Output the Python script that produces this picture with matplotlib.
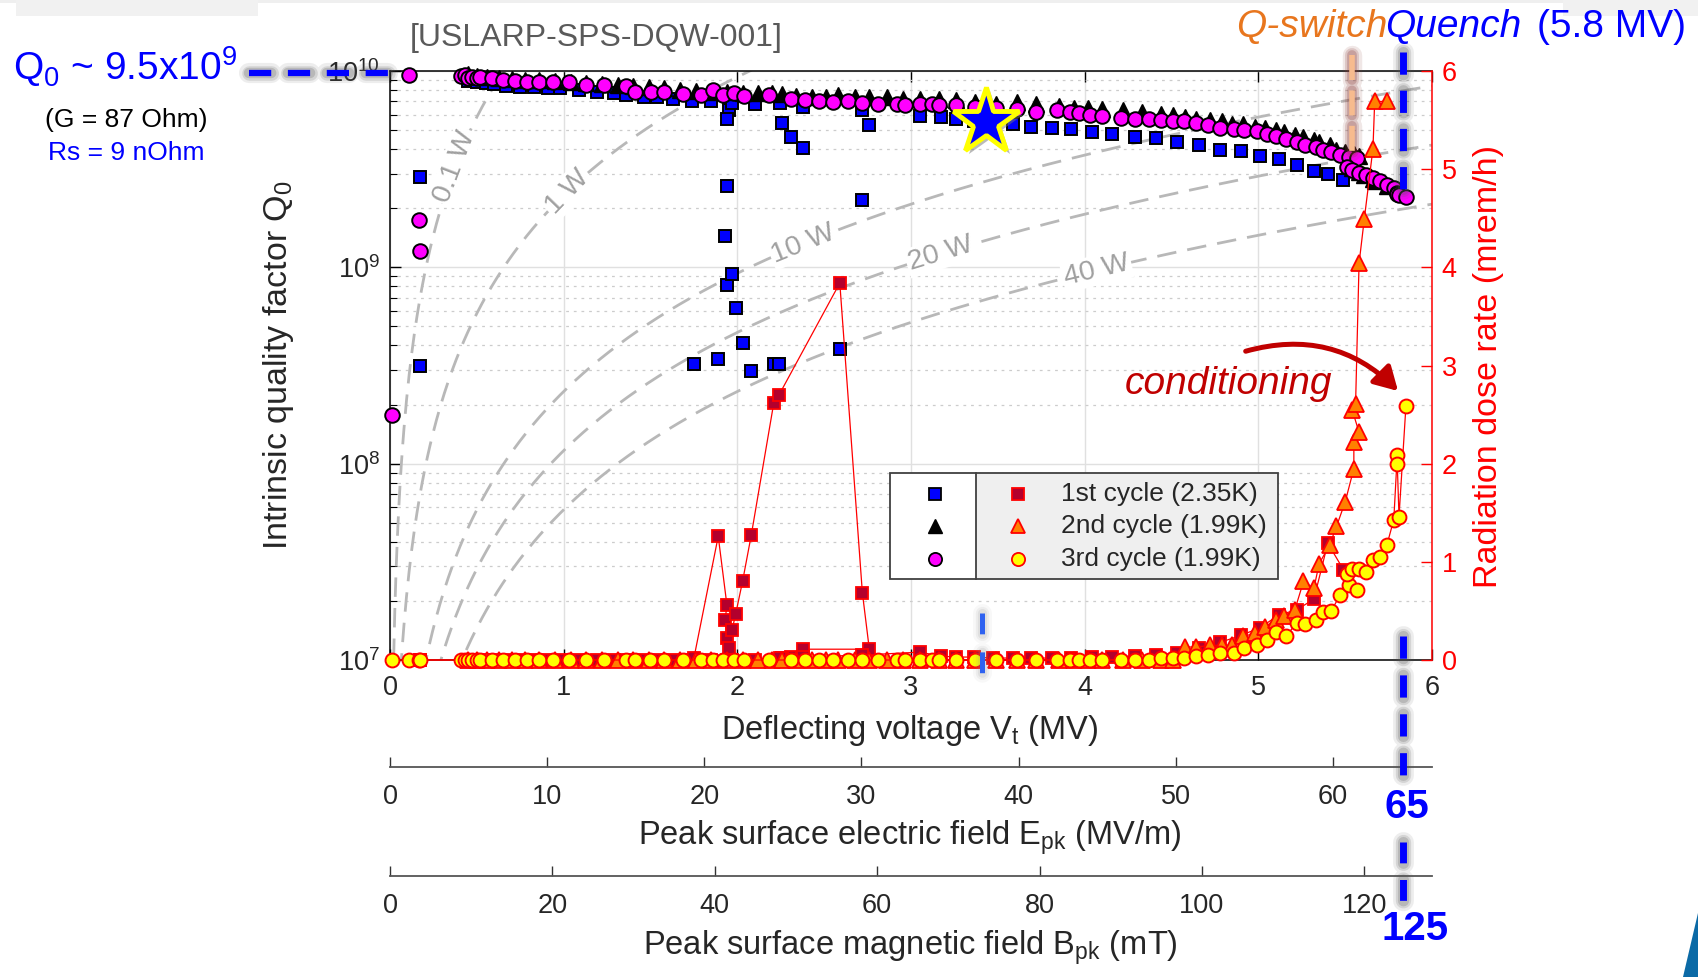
import numpy as np
import matplotlib
matplotlib.use("Agg")
import matplotlib.pyplot as plt
from matplotlib.patches import Rectangle, Polygon, FancyArrowPatch
import matplotlib.patheffects as pe
from matplotlib.ticker import LogLocator, NullFormatter

# ---------------- data ----------------
# 1st cycle (2.35K): deflecting voltage [MV], Q0, radiation [mrem/h]
V1 = [0.17, 0.17, 0.45, 0.50, 0.55, 0.60, 0.67, 0.75, 0.83, 0.91, 0.98, 1.09, 1.19, 1.29,
      1.36, 1.46, 1.54, 1.63, 1.74, 1.75, 1.89, 1.94, 1.93, 1.94, 1.95, 1.97, 1.99, 2.03,
      2.08, 2.21, 2.24, 2.59, 2.72, 2.76, 2.38, 2.31, 2.26, 1.85, 1.94, 1.97, 2.10, 2.245,
      2.376, 2.715, 3.05, 3.17, 3.26, 3.36, 3.47, 3.59, 3.69, 3.81, 3.92, 4.04, 4.16, 4.29,
      4.41, 4.53, 4.66, 4.78, 4.90, 5.01, 5.12, 5.22, 5.32, 5.40, 5.49]
Q1 = [2.90e9, 3.15e8, 8.91e9, 8.83e9, 8.71e9, 8.59e9, 8.39e9, 8.32e9, 8.28e9, 8.22e9, 8.17e9,
      8.00e9, 7.85e9, 7.69e9, 7.55e9, 7.40e9, 7.35e9, 7.18e9, 7.06e9, 3.2e8, 3.4e8, 2.60e9,
      1.45e9, 8.1e8, 6.31e9, 9.3e8, 6.2e8, 4.1e8, 2.95e8, 3.2e8, 3.2e8, 3.85e8, 2.20e9,
      5.31e9, 4.04e9, 4.60e9, 5.42e9, 7.06e9, 5.70e9, 6.90e9, 6.79e9, 6.87e9, 6.58e9, 6.31e9,
      5.90e9, 5.81e9, 5.68e9, 5.56e9, 5.47e9, 5.37e9, 5.21e9, 5.11e9, 5.07e9, 4.91e9, 4.78e9,
      4.63e9, 4.54e9, 4.34e9, 4.20e9, 3.98e9, 3.93e9, 3.71e9, 3.56e9, 3.33e9, 3.11e9, 2.98e9,
      2.79e9]
D1 = [0.0, 0.0, 0.0, 0.0, 0.0, 0.0, 0.0, 0.0, 0.0, 0.0, 0.0, 0.0, 0.0, 0.0, 0.0, 0.0, 0.0,
      0.0, 0.0, 0.02, 1.26, 0.56, 0.41, 0.22, 0.12, 0.31, 0.465, 0.80, 1.27, 2.62, 2.70, 3.84,
      0.685, 0.11, 0.11, 0.03, 0.02, 0.0, 0.0, 0.0, 0.0, 0.02, 0.03, 0.05, 0.08, 0.04, 0.03,
      0.03, 0.02, 0.02, 0.02, 0.02, 0.02, 0.03, 0.03, 0.04, 0.05, 0.07, 0.12, 0.18, 0.25,
      0.33, 0.46, 0.51, 0.62, 1.19, 0.92]

# 2nd cycle (1.99K)
V2 = [0.45, 0.50, 0.56, 0.63, 0.70, 0.78, 0.86, 0.95, 1.04, 1.13, 1.22, 1.31, 1.40, 1.49,
      1.58, 1.67, 1.76, 1.85, 1.94, 2.03, 2.12, 2.20, 2.26, 2.34, 2.43, 2.51, 2.58, 2.68,
      2.76, 2.86, 2.955, 3.05, 3.16, 3.26, 3.37, 3.49, 3.61, 3.72, 3.85, 3.94, 4.02, 4.10,
      4.22, 4.33, 4.44, 4.51, 4.58, 4.64, 4.72, 4.79, 4.85, 4.91, 4.98, 5.04, 5.10, 5.15,
      5.21, 5.26, 5.32, 5.35, 5.41, 5.45, 5.50, 5.55, 5.55, 5.58, 5.54, 5.56, 5.58, 5.61,
      5.66, 5.67, 5.74]
Q2 = [9.66e9, 9.44e9, 9.33e9, 9.16e9, 9.12e9, 9.02e9, 8.95e9, 8.91e9, 8.81e9, 8.71e9, 8.61e9,
      8.51e9, 8.41e9, 8.28e9, 8.17e9, 8.04e9, 7.94e9, 7.85e9, 7.80e9, 7.76e9, 7.73e9, 7.69e9,
      7.67e9, 7.50e9, 7.38e9, 7.41e9, 7.52e9, 7.38e9, 7.41e9, 7.38e9, 7.23e9, 7.23e9, 7.23e9,
      7.14e9, 6.95e9, 6.82e9, 6.95e9, 6.82e9, 6.61e9, 6.50e9, 6.46e9, 6.43e9, 6.31e9, 6.18e9,
      6.07e9, 5.96e9, 5.83e9, 5.71e9, 5.61e9, 5.57e9, 5.40e9, 5.36e9, 5.19e9, 5.13e9, 5.02e9,
      4.90e9, 4.71e9, 4.61e9, 4.44e9, 4.37e9, 4.19e9, 3.98e9, 3.85e9, 3.76e9, 3.72e9, 3.67e9,
      3.21e9, 3.16e9, 3.06e9, 2.95e9, 2.82e9, 2.75e9, 2.60e9]
D2 = [0.0, 0.0, 0.0, 0.0, 0.0, 0.0, 0.0, 0.0, 0.0, 0.0, 0.0, 0.0, 0.0, 0.0, 0.0, 0.0, 0.0,
      0.0, 0.0, 0.0, 0.0, 0.0, 0.0, 0.0, 0.0, 0.0, 0.0, 0.0, 0.0, 0.0, 0.0, 0.0, 0.0, 0.0,
      0.0, 0.0, 0.0, 0.0, 0.0, 0.0, 0.0, 0.0, 0.0, 0.0, 0.0, 0.0, 0.135, 0.13, 0.15, 0.15,
      0.15, 0.24, 0.27, 0.34, 0.41, 0.45, 0.51, 0.80, 0.73, 0.98, 1.17, 1.36, 1.61, 1.95,
      2.22, 2.32, 2.55, 2.61, 4.04, 4.49, 5.21, 5.69, 5.69]

# 3rd cycle (1.99K)
V3 = [0.01, 0.11, 0.165, 0.17, 0.41, 0.43, 0.45, 0.47, 0.50, 0.52, 0.585, 0.65, 0.72, 0.79,
      0.86, 0.94, 1.03, 1.13, 1.23, 1.36, 1.41, 1.50, 1.58, 1.69, 1.79, 1.86, 1.92, 1.98,
      2.04, 2.18, 2.31, 2.39, 2.47, 2.55, 2.64, 2.72, 2.81, 2.92, 2.965, 3.05, 3.12, 3.16,
      3.26, 3.37, 3.49, 3.61, 3.72, 3.84, 3.915, 3.97, 4.03, 4.10, 4.21, 4.29, 4.37, 4.44,
      4.51, 4.57, 4.64, 4.71, 4.78, 4.86, 4.92, 4.99, 5.05, 5.10, 5.16, 5.22, 5.27, 5.33,
      5.37, 5.42, 5.47, 5.52, 5.57, 5.51, 5.54, 5.58, 5.62, 5.66, 5.70, 5.74, 5.78, 5.80,
      5.80, 5.81, 5.85]
Q3 = [1.78e8, 9.55e9, 1.75e9, 1.21e9, 9.44e9, 9.55e9, 9.23e9, 9.35e9, 9.23e9, 9.35e9, 9.18e9,
      8.99e9, 8.93e9, 8.83e9, 8.83e9, 8.83e9, 8.83e9, 8.49e9, 8.49e9, 8.39e9, 7.85e9, 7.85e9,
      7.78e9, 7.60e9, 7.55e9, 8.00e9, 7.55e9, 7.69e9, 7.48e9, 7.55e9, 7.18e9, 7.13e9, 7.06e9,
      6.98e9, 7.06e9, 6.90e9, 6.79e9, 6.76e9, 6.71e9, 6.79e9, 6.76e9, 6.71e9, 6.71e9, 6.58e9,
      6.46e9, 6.38e9, 6.21e9, 6.31e9, 6.21e9, 6.14e9, 5.97e9, 5.90e9, 5.78e9, 5.71e9, 5.71e9,
      5.62e9, 5.56e9, 5.55e9, 5.42e9, 5.31e9, 5.11e9, 5.05e9, 5.01e9, 4.95e9, 4.78e9, 4.67e9,
      4.51e9, 4.37e9, 4.20e9, 4.09e9, 3.96e9, 3.88e9, 3.74e9, 3.66e9, 3.60e9, 3.26e9, 3.13e9,
      3.03e9, 2.96e9, 2.84e9, 2.74e9, 2.63e9, 2.53e9, 2.40e9, 2.37e9, 2.34e9, 2.29e9]
D3 = [0.0, 0.0, 0.0, 0.0, 0.0, 0.0, 0.0, 0.0, 0.0, 0.0, 0.0, 0.0, 0.0, 0.0, 0.0, 0.0, 0.0,
      0.0, 0.0, 0.0, 0.0, 0.0, 0.0, 0.0, 0.0, 0.0, 0.0, 0.0, 0.0, 0.0, 0.0, 0.0, 0.0, 0.0,
      0.0, 0.0, 0.0, 0.0, 0.0, 0.0, 0.0, 0.0, 0.0, 0.0, 0.0, 0.0, 0.0, 0.0, 0.0, 0.0, 0.0,
      0.0, 0.0, 0.0, 0.0, 0.02, 0.02, 0.02, 0.04, 0.05, 0.075, 0.075, 0.12, 0.15, 0.20,
      0.29, 0.24, 0.38, 0.37, 0.41, 0.49, 0.50, 0.66, 0.76, 0.71, 0.88, 0.93, 0.93, 0.90,
      1.02, 1.05, 1.17, 1.43, 2.09, 2.00, 1.46, 2.59]

# design point (star) and iso-power lines
STAR_V, STAR_Q = 3.43, 5.5e9
R_OVER_Q = 429.0                     # Ohm
POWER_LINES = [0.1, 1, 10, 20, 40]   # W
POWER_LABELS = ["0.1 W", "1 W", "10 W", "20 W", "40 W"]
POWER_LABEL_V = [0.374, 1.02, 2.38, 3.17, 4.07]
POWER_LABEL_ROT = [69, 46, 22, 17, 13.5]

# axes
V_TICKS = [0, 1, 2, 3, 4, 5, 6]
DOSE_TICKS = [0, 1, 2, 3, 4, 5, 6]
E_PER_MV = 11.05      # MV/m per MV
B_PER_MV = 21.39      # mT per MV
EPK_TICKS = [0, 10, 20, 30, 40, 50, 60]
BPK_TICKS = [0, 20, 40, 60, 80, 100, 120]
LEGEND_LABELS = ["1st cycle (2.35K)", "2nd cycle (1.99K)", "3rd cycle (1.99K)"]

# ---------------- style ----------------
plt.rcParams["font.family"] = ["Liberation Sans", "DejaVu Sans"]
plt.rcParams["mathtext.fontset"] = "custom"
plt.rcParams["mathtext.rm"] = "Liberation Sans"
plt.rcParams["mathtext.it"] = "Liberation Sans:italic"
plt.rcParams["mathtext.bf"] = "Liberation Sans:bold"
plt.rcParams["lines.scale_dashes"] = False

W, H = 1698, 977
fig = plt.figure(figsize=(W / 100, H / 100), dpi=100)
fig.patch.set_facecolor("white")

AX_L, AX_R, AX_T, AX_B = 390, 1432, 71, 660
ax = fig.add_axes([AX_L / W, 1 - AX_B / H, (AX_R - AX_L) / W, (AX_B - AX_T) / H])

TXT = "#262626"
BLUE = "#0000ff"

# iso-power curves
v_curve = np.linspace(0.005, 6.0, 800)
for P in POWER_LINES:
    ax.plot(v_curve, (v_curve * 1e6) ** 2 / (R_OVER_Q * P), color="#b8b8b8", lw=2.0,
            dashes=(14, 8), zorder=1.5)
for P, lab, v, rot in zip(POWER_LINES, POWER_LABELS, POWER_LABEL_V, POWER_LABEL_ROT):
    ax.text(v, (v * 1e6) ** 2 / (R_OVER_Q * P), lab, rotation=rot, rotation_mode="anchor",
            ha="center", va="center", color="#a0a0a0", fontsize=20.5, zorder=1.8,
            bbox=dict(fc="white", ec="none", pad=1.5))

# Q0 series
ax.plot(V1, Q1, ls="none", marker="s", ms=8.5, mfc=BLUE, mec="black", mew=1.4, zorder=3,
        clip_on=False)
ax.plot(V2, Q2, ls="none", marker="^", ms=11.5, mfc="black", mec="black", mew=1.0, zorder=3.1,
        clip_on=False)
ax.plot(V3, Q3, ls="none", marker="o", ms=10.5, mfc="#ff00ff", mec="black", mew=1.4,
        zorder=3.2, clip_on=False)

# star
ax.plot([STAR_V], [STAR_Q], marker="*", ms=50, mfc=BLUE, mec="#ffff00", mew=3.5, zorder=10,
        path_effects=[pe.SimplePatchShadow(offset=(3, -3), shadow_rgbFace="#777777", alpha=0.5),
                      pe.Normal()])

ax.set_yscale("log")
ax.set_xlim(0, 6)
ax.set_ylim(1e7, 1e10)
ax.set_xticks(V_TICKS)
ax.yaxis.set_major_locator(LogLocator(base=10, numticks=10))
ax.yaxis.set_minor_locator(LogLocator(base=10, subs=np.arange(2, 10), numticks=10))
ax.yaxis.set_minor_formatter(NullFormatter())
ax.tick_params(axis="both", which="both", direction="in", top=True, right=True,
               labelsize=19.5, labelcolor=TXT, color="black")
ax.tick_params(which="major", length=8, width=1.0)
ax.tick_params(which="minor", length=5, width=0.8)
ax.tick_params(axis="x", pad=11)
ax.tick_params(axis="y", pad=7)
ax.grid(True, which="major", color="#e0e0e0", lw=1.0)
ax.yaxis.grid(True, which="minor", color="#cccccc", lw=0.9, ls=(0, (2, 3.5)))
ax.set_axisbelow(True)
for s in ["left", "bottom", "top"]:
    ax.spines[s].set_linewidth(1.1)
ax.spines["right"].set_visible(False)

# radiation axis
ax2 = ax.twinx()
ax2.plot(V1, D1, "-", color="red", lw=0.9, marker="s", ms=8.5, mfc="#b3002d", mec="red",
         mew=1.3, clip_on=False, zorder=3)
ax2.plot(V2, D2, "-", color="red", lw=0.9, marker="^", ms=11, mfc="#ff8000", mec="red",
         mew=1.3, clip_on=False, zorder=3.1)
ax2.plot(V3, D3, "-", color="red", lw=0.9, marker="o", ms=10, mfc="#ffff00", mec="red",
         mew=1.4, clip_on=False, zorder=3.2)
ax2.set_ylim(0, 6)
ax2.set_xlim(0, 6)
ax2.set_yticks(DOSE_TICKS)
ax2.tick_params(axis="y", colors="red", direction="in", length=8, width=1.0, labelsize=19.5,
                pad=7)
for s in ["left", "top", "bottom"]:
    ax2.spines[s].set_visible(False)
ax2.spines["right"].set_color("red")
ax2.spines["right"].set_linewidth(1.1)

# secondary field axes
sec1 = ax.secondary_xaxis(-0.1817, functions=(lambda v: v * E_PER_MV, lambda e: e / E_PER_MV))
sec1.set_xticks(EPK_TICKS)
sec2 = ax.secondary_xaxis(-0.367, functions=(lambda v: v * B_PER_MV, lambda b: b / B_PER_MV))
sec2.set_xticks(BPK_TICKS)
for sec in (sec1, sec2):
    sec.tick_params(direction="in", length=7, width=1.0, color="#333333", labelsize=19.5,
                    labelcolor=TXT, pad=12)
    for sp in sec.spines.values():
        sp.set_color("#555555")
        sp.set_linewidth(1.3)

# ---------------- legend (custom two-column box) ----------------
LG_L, LG_R, LG_T, LG_B, LG_DIV = 890, 1278, 473, 579, 976
leg = fig.add_axes([LG_L / W, 1 - LG_B / H, (LG_R - LG_L) / W, (LG_B - LG_T) / H])
leg.set_xlim(0, 1)
leg.set_ylim(0, 1)
leg.axis("off")
div = (LG_DIV - LG_L) / (LG_R - LG_L)
leg.add_patch(Rectangle((0, 0), 1, 1, fc="white", ec="none", clip_on=False))
leg.add_patch(Rectangle((div, 0), 1 - div, 1, fc="#efefef", ec="none", clip_on=False))
leg.add_patch(Rectangle((0, 0), 1, 1, fc="none", ec="#404040", lw=1.3, clip_on=False))
leg.plot([div, div], [0, 1], color="#404040", lw=1.3, clip_on=False)
rows = [0.80, 0.50, 0.19]
left_m = [dict(marker="s", ms=8, mfc=BLUE, mec="black", mew=1.3),
          dict(marker="^", ms=10, mfc="black", mec="black", mew=1.0),
          dict(marker="o", ms=9.5, mfc="#ff00ff", mec="black", mew=1.3)]
right_m = [dict(marker="s", ms=8, mfc="#b3002d", mec="red", mew=1.3),
           dict(marker="^", ms=10, mfc="#ff8000", mec="red", mew=1.3),
           dict(marker="o", ms=9.5, mfc="#ffff00", mec="red", mew=1.3)]
for y, lm, rm, lab in zip(rows, left_m, right_m, LEGEND_LABELS):
    leg.plot([0.116], [y], ls="none", **lm)
    leg.plot([0.330], [y], ls="none", **rm)
    leg.text(0.44, y, lab, ha="left", va="center", fontsize=19, color=TXT)

# ---------------- overlay annotations (pixel coordinates) ----------------
ov = fig.add_axes([0, 0, 1, 1], zorder=10)
ov.set_xlim(0, W)
ov.set_ylim(H, 0)
ov.axis("off")
ov.patch.set_visible(False)

# slide decoration
ov.add_patch(Rectangle((0, 0), W, 3, fc="#efefef", ec="none", zorder=0))
ov.add_patch(Rectangle((16, 0), 242, 16, fc="#f1f1f1", ec="none", zorder=0))
ov.add_patch(Rectangle((1563, 0), 135, 16, fc="#f1f1f1", ec="none", zorder=0))
ov.add_patch(Polygon([(1698, 913), (1683, 977), (1698, 977)], closed=True, fc="#0b6aa6",
                     ec="none", zorder=0))


def glow_dash(xs, ys, color, lw, dashes, glow="#555555", strength=1.0):
    for extra, a in [(10, 0.10), (6, 0.16), (3, 0.22)]:
        ov.plot(xs, ys, color=glow, lw=lw + extra, alpha=a * strength, dashes=dashes,
                dash_capstyle="round", zorder=2)
    ov.plot(xs, ys, color=color, lw=lw, dashes=dashes, dash_capstyle="butt", zorder=3)


glow_dash([249, 388], [73, 73], BLUE, 4.5, (16, 12))
glow_dash([1403, 1403], [52, 192], BLUE, 5.0, (16, 11.5))
glow_dash([1403, 1403], [636, 776], BLUE, 5.0, (16, 12))
glow_dash([1403, 1403], [842, 901], BLUE, 5.0, (15, 12))
glow_dash([1352, 1352], [55, 151], "#f7bb8e", 4.0, (18, 7.5), glow="#8a3b35", strength=1.2)
glow_dash([982, 982], [613, 673], "#2f62f0", 3.6, (15, 13), glow="#888888", strength=0.6)

ov.text(596, 38, "[USLARP-SPS-DQW-001]", ha="center", va="center", fontsize=23,
        color="#5a5a5a")
ov.text(1387, 27, "Q-switch", ha="right", va="center", fontsize=28, color="#e8761e",
        style="italic")
ov.text(1385, 27, "Quench", ha="left", va="center", fontsize=28, color=BLUE, style="italic")
ov.text(1686, 27, "(5.8 MV)", ha="right", va="center", fontsize=28, color=BLUE)
ov.text(13, 67, r"Q$_0$ ~ 9.5x10$^9$", ha="left", va="center", fontsize=28, color=BLUE)
ov.text(126, 120, "(G = 87 Ohm)", ha="center", va="center", fontsize=19, color="black")
ov.text(126, 153, "Rs = 9 nOhm", ha="center", va="center", fontsize=19, color=BLUE)
ov.text(1228, 384, "conditioning", ha="center", va="center", fontsize=28, color="#c00000",
        style="italic")
ov.add_patch(FancyArrowPatch((1243, 352), (1400, 393), connectionstyle="arc3,rad=-0.3",
                             arrowstyle="-|>,head_length=14,head_width=8", lw=3.6,
                             color="#c00000", zorder=4))
ov.text(1407, 807, "65", ha="center", va="center", fontsize=29, color=BLUE, fontweight="bold")
ov.text(1415, 929, "125", ha="center", va="center", fontsize=29, color=BLUE,
        fontweight="bold")

# axis titles
ov.text(910, 731, r"Deflecting voltage V$_\mathrm{t}$ (MV)", ha="center", va="center",
        fontsize=23.5, color=TXT)
ov.text(910, 838, r"Peak surface electric field E$_\mathrm{pk}$ (MV/m)", ha="center",
        va="center", fontsize=23.5, color=TXT)
ov.text(910, 948, r"Peak surface magnetic field B$_\mathrm{pk}$ (mT)", ha="center",
        va="center", fontsize=23.5, color=TXT)
ov.text(279, 365, r"Intrinsic quality factor Q$_0$", ha="center", va="center",
        fontsize=24.5, color=TXT, rotation=90)
ov.text(1489, 366, "Radiation dose rate (mrem/h)", ha="center", va="center",
        fontsize=24.5, color="red", rotation=90)

fig.savefig("out.png", dpi=100)
